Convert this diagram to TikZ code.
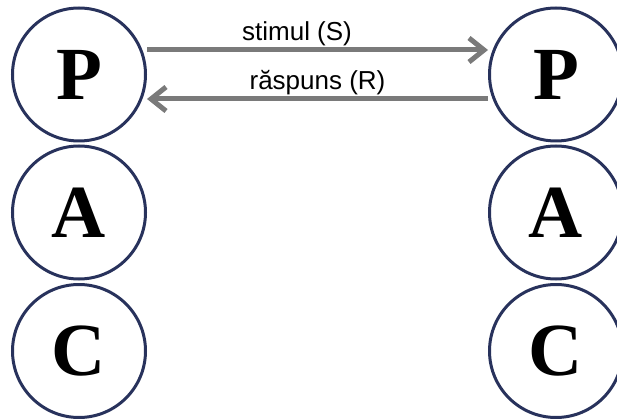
\documentclass[tikz,border=0pt]{standalone}
\usepackage{fontspec}
\usepackage{tikz}
\usetikzlibrary{arrows.meta,positioning}
\setmainfont{Liberation Sans}
\newfontfamily\egofont{Liberation Serif}
\definecolor{egoblue}{RGB}{40,50,92}
\definecolor{flowgray}{RGB}{122,122,122}
\tikzset{
  egostate/.style={circle, draw=egoblue, line width=3pt, minimum size=133pt,
    inner sep=0pt, font=\egofont\bfseries\fontsize{75}{75}\selectfont},
  flow/.style={draw=flowgray, line width=5pt,
    -{Straight Barb[length=15pt,width=24pt]}},
  flowlabel/.style={font=\fontsize{26}{26}\selectfont, inner sep=0pt, above=2pt}
}

\begin{document}
\begin{tikzpicture}[x=1pt,y=-1pt]
  \clip (0,0) rectangle (617,419);
  % left person
  \node[egostate] (PL) at (79,74.5) {P};
  \node[egostate] (AL) at (79,212.5) {A};
  \node[egostate] (CL) at (79,351) {C};
  % right person
  \node[egostate] (PR) at (556,74.5) {P};
  \node[egostate] (AR) at (556,212.5) {A};
  \node[egostate] (CR) at (556,351) {C};
  % transaction between the two parents
  \draw[flow] ([yshift=24.5pt]PL.east) -- node[flowlabel, pos=.44] {stimul (S)} ([yshift=24.5pt]PR.west);
  \draw[flow] ([yshift=-24.5pt]PR.west) -- node[flowlabel] {răspuns (R)} ([yshift=-24.5pt]PL.east);
\end{tikzpicture}
\end{document}
